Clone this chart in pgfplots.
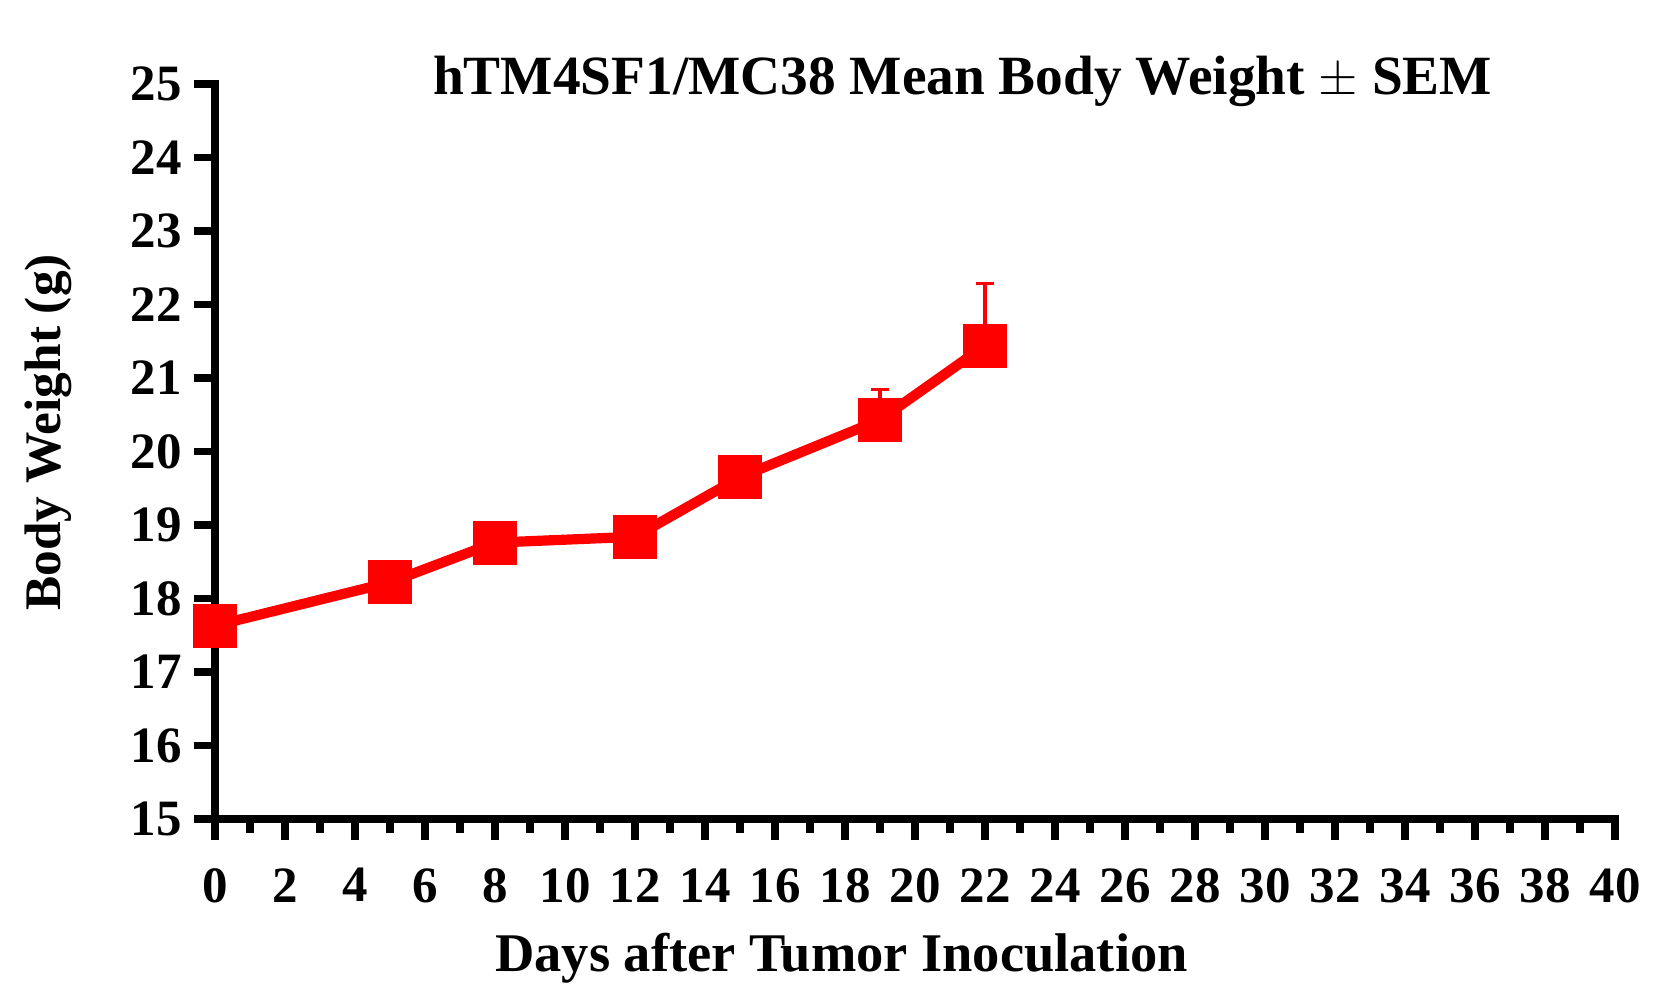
\documentclass[border=0pt]{standalone}
\usepackage{fontspec}
\setmainfont{Liberation Serif}
\usepackage{pgfplots}
\pgfplotsset{compat=1.18}
\begin{document}
\begin{tikzpicture}
\useasboundingbox (-2.15,-1.75) rectangle (14.63,8.19);
\begin{axis}[
  at={(0,0)}, anchor=origin,
  scale only axis,
  width=14.0cm, height=7.35cm,
  xmin=0, xmax=40, ymin=15, ymax=25,
  axis lines*=left,
  axis line style={line width=2.2pt, line cap=rect},
  clip=false,
  xtick={0,2,...,40},
  minor x tick num=1,
  ytick={15,16,...,25},
  tick align=outside,
  major tick length=0.21cm,
  minor tick length=0.14cm,
  every tick/.style={line width=2.2pt, black},
  /pgf/number format/assume math mode=true,
  ticklabel style={font=\fontsize{14.5}{17}\selectfont\bfseries},
  xticklabel style={yshift=-0.16cm},
]
\addplot[red, line width=2.9pt, mark=square*, mark size=0.17cm,
  mark options={solid, fill=red, draw=none},
  error bars/.cd, y dir=plus, y explicit,
  error bar style={line width=0.95pt, red},
  error mark options={line width=0.95pt, red, mark size=0.09cm, rotate=90}]
  table[x=x, y=y, y error=e] {
x y e
0 17.63 0.04
5 18.22 0.04
8 18.76 0.04
12 18.84 0.08
15 19.65 0.06
19 20.43 0.41
22 21.44 0.85
};
\node[anchor=base, font=\fontsize{15.75}{18}\selectfont\bfseries] at (rel axis cs:0.534,0.986) {hTM4SF1/MC38 Mean Body Weight $\pm$ SEM};
\node[anchor=base, font=\fontsize{15.5}{18}\selectfont\bfseries] at (rel axis cs:0.4475,-0.207) {Days after Tumor Inoculation};
\node[anchor=base, rotate=90, font=\fontsize{14.6}{18}\selectfont\bfseries] at (rel axis cs:-0.110,0.526) {Body Weight (g)};
\end{axis}
\end{tikzpicture}
\end{document}
